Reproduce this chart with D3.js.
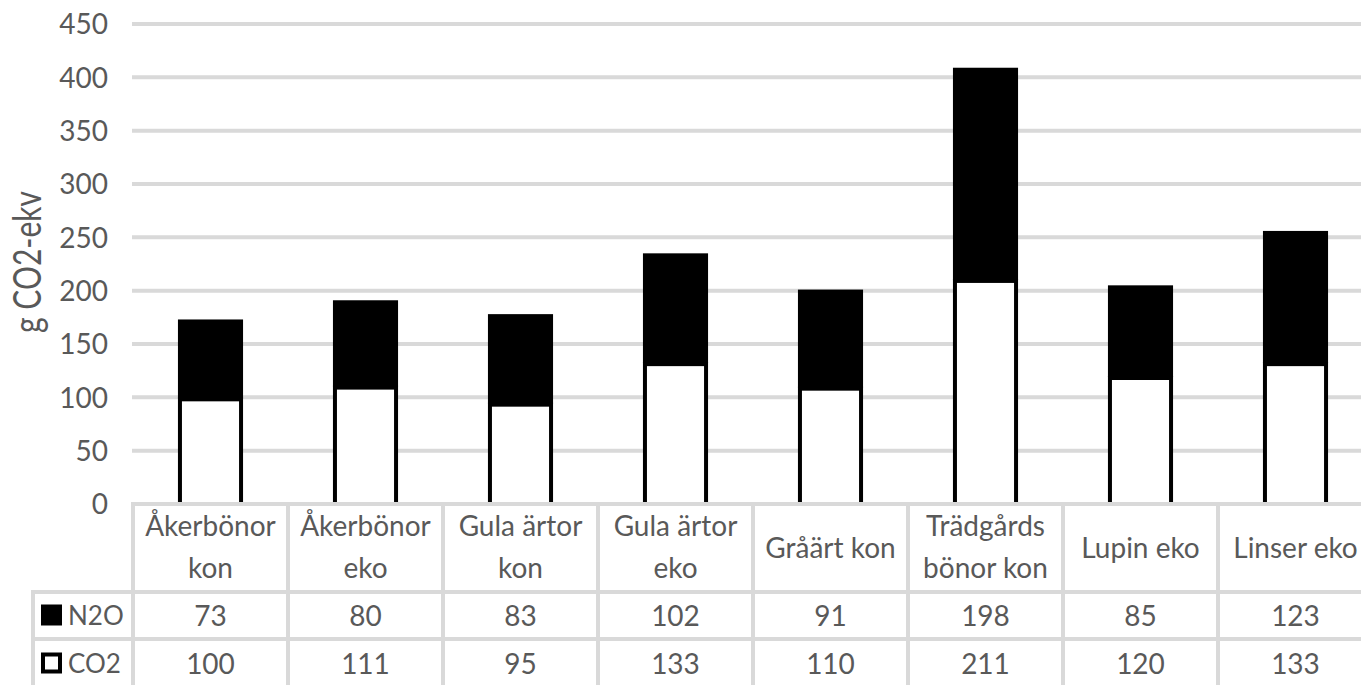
<!DOCTYPE html>
<html>
<head>
<meta charset="utf-8">
<script src="https://cdn.jsdelivr.net/npm/d3@7"></script>
<style>
  html, body { margin: 0; padding: 0; background: #fff; overflow: hidden; }
  svg text { font-family: Lato, "Open Sans", sans-serif; fill: #595959; }
</style>
</head>
<body>
<svg id="chart" width="1361" height="685"></svg>
<script>
// Emissions per product, g CO2-ekv
const categories = [
  ["Åkerbönor", "kon"],
  ["Åkerbönor", "eko"],
  ["Gula ärtor", "kon"],
  ["Gula ärtor", "eko"],
  ["Gråärt kon"],
  ["Trädgårds", "bönor kon"],
  ["Lupin eko"],
  ["Linser eko"]
];
const seriesNames = ["N2O", "CO2"];
const n2o = [73, 80, 83, 102, 91, 198, 85, 123];
const co2 = [100, 111, 95, 133, 110, 211, 120, 133];
const yTicks = [0, 50, 100, 150, 200, 250, 300, 350, 400, 450];

const svg = d3.select("#chart");
const W = 1361, H = 685;
const plotLeft = 133, plotRight = 1373, plotTop = 24, plotBottom = 504;
const gridColor = "#d9d9d9";

const x = d3.scaleBand()
  .domain(d3.range(categories.length))
  .range([plotLeft, plotRight])
  .paddingInner(0.58)
  .paddingOuter(0.29);
const band = (plotRight - plotLeft) / categories.length;
const y = d3.scaleLinear().domain([0, 450]).range([plotBottom, plotTop]);

// gridlines
svg.append("g").selectAll("line")
  .data(yTicks.filter(d => d > 0))
  .join("line")
  .attr("x1", plotLeft - 1).attr("x2", W)
  .attr("y1", d => y(d)).attr("y2", d => y(d))
  .attr("stroke", gridColor).attr("stroke-width", 4);

// y axis labels
const yAxis = d3.axisLeft(y).tickValues(yTicks).tickSize(0).tickPadding(0);
const ya = svg.append("g").attr("transform", "translate(108,0)").call(yAxis);
ya.select(".domain").remove();
ya.selectAll("text")
  .attr("font-size", 28)
  .attr("font-family", "Lato, 'Open Sans', sans-serif")
  .attr("fill", "#595959")
  .attr("dy", "0.35em");

svg.append("text")
  .attr("transform", `translate(41,${(plotTop + plotBottom) / 2 - 2}) rotate(-90) scale(1.07,1.35)`)
  .attr("text-anchor", "middle")
  .attr("font-size", 28)
  .text("g CO2-ekv");

// stacked bars
const sw = 4;
const bars = svg.append("g");
bars.selectAll("rect.co2")
  .data(co2)
  .join("rect")
  .attr("class", "co2")
  .attr("x", (d, i) => x(i) + sw / 2)
  .attr("width", x.bandwidth() - sw)
  .attr("y", d => y(d) + sw / 2)
  .attr("height", d => y(0) - y(d) - sw / 2)
  .attr("fill", "#fff")
  .attr("stroke", "#000")
  .attr("stroke-width", sw);
// N2O segment sits on top; it runs 1px into the black top edge of the CO2 segment
bars.selectAll("rect.n2o")
  .data(n2o)
  .join("rect")
  .attr("class", "n2o")
  .attr("x", (d, i) => x(i))
  .attr("width", x.bandwidth())
  .attr("y", (d, i) => y(co2[i] + d))
  .attr("height", (d, i) => y(co2[i]) - y(co2[i] + d) + 1)
  .attr("fill", "#000");

// data table
const rowTop = plotBottom, rowHead = 592, rowN2O = 639, rowCO2 = 688;
const tableLeft = 33;
const tbl = svg.append("g").attr("stroke", gridColor).attr("stroke-width", 4);
// horizontal lines
tbl.append("line").attr("x1", plotLeft).attr("x2", W).attr("y1", rowTop).attr("y2", rowTop);
[rowHead, rowN2O, rowCO2].forEach(v =>
  tbl.append("line").attr("x1", tableLeft - 2).attr("x2", W).attr("y1", v).attr("y2", v));
// vertical lines
d3.range(categories.length + 1).forEach(i =>
  tbl.append("line")
    .attr("x1", plotLeft + i * band).attr("x2", plotLeft + i * band)
    .attr("y1", rowTop - 2).attr("y2", H));
tbl.append("line").attr("x1", tableLeft).attr("x2", tableLeft).attr("y1", rowHead - 2).attr("y2", H);

// category header text
const head = svg.append("g");
categories.forEach((lines, i) => {
  const cx = plotLeft + (i + 0.5) * band;
  const cy = (rowTop + rowHead) / 2;
  const t = head.append("text")
    .attr("x", cx)
    .attr("text-anchor", "middle")
    .attr("font-size", 28);
  if (lines.length === 1) {
    t.append("tspan").attr("x", cx).attr("y", cy + 10).text(lines[0]);
  } else {
    t.append("tspan").attr("x", cx).attr("y", cy - 12).text(lines[0]);
    t.append("tspan").attr("x", cx).attr("y", cy + 30).text(lines[1]);
  }
});

// series rows
const rows = [
  { name: seriesNames[0], values: n2o, top: rowHead, bottom: rowN2O, fill: "#000" },
  { name: seriesNames[1], values: co2, top: rowN2O, bottom: rowCO2, fill: "#fff" }
];
rows.forEach(r => {
  const cy = (r.top + r.bottom) / 2;
  svg.append("rect")
    .attr("x", 43).attr("y", cy - 9)
    .attr("width", 17).attr("height", 17)
    .attr("fill", r.fill)
    .attr("stroke", "#000").attr("stroke-width", 4);
  svg.append("text")
    .attr("x", 68).attr("y", cy + 9)
    .attr("font-size", 26)
    .text(r.name);
  svg.append("g").selectAll("text")
    .data(r.values)
    .join("text")
    .attr("x", (d, i) => plotLeft + (i + 0.5) * band)
    .attr("y", cy + 10)
    .attr("text-anchor", "middle")
    .attr("font-size", 28)
    .text(d => d);
});
</script>
</body>
</html>
